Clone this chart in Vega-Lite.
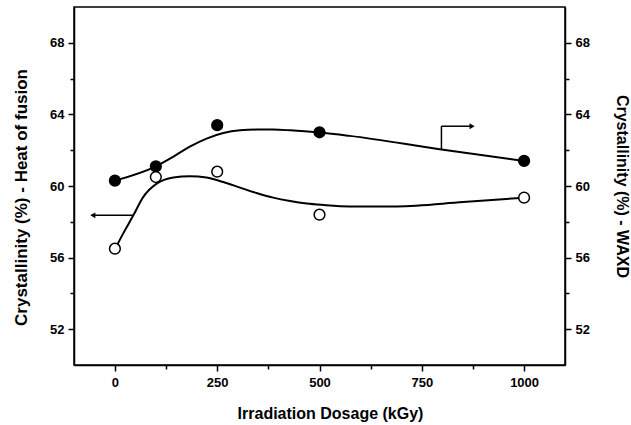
{
  "$schema": "https://vega.github.io/schema/vega-lite/v6.json",
  "width": 491,
  "height": 358,
  "autosize": {"type": "none"},
  "padding": {"left": 74, "top": 7, "right": 66, "bottom": 60},
  "background": "white",
  "config": {
    "view": {"stroke": "black", "strokeWidth": 1.5},
    "axis": {
      "grid": false,
      "domainColor": "black",
      "domainWidth": 1.5,
      "tickColor": "black",
      "tickWidth": 1.5,
      "labelFont": "Liberation Sans",
      "labelFontWeight": "bold",
      "labelFontSize": 13,
      "labelColor": "black",
      "titleFont": "Liberation Sans",
      "titleFontWeight": "bold",
      "titleFontSize": 16,
      "titleColor": "black",
      "labelOverlap": false,
      "labelPadding": 4
    }
  },
  "datasets": {
    "pts": [
      {"dose": 0, "val": 60.3, "series": "WAXD"},
      {"dose": 100, "val": 61.1, "series": "WAXD"},
      {"dose": 250, "val": 63.4, "series": "WAXD"},
      {"dose": 500, "val": 63.0, "series": "WAXD"},
      {"dose": 1000, "val": 61.4, "series": "WAXD"},
      {"dose": 0, "val": 56.5, "series": "Heat"},
      {"dose": 100, "val": 60.5, "series": "Heat"},
      {"dose": 250, "val": 60.8, "series": "Heat"},
      {"dose": 500, "val": 58.4, "series": "Heat"},
      {"dose": 1000, "val": 59.35, "series": "Heat"}
    ],
    "fit": [
      {"dose": 0, "val": 60.3, "series": "WAXD"},
      {"dose": 100, "val": 61.1, "series": "WAXD"},
      {"dose": 143, "val": 61.64, "series": "WAXD"},
      {"dose": 183, "val": 62.2, "series": "WAXD"},
      {"dose": 224, "val": 62.65, "series": "WAXD"},
      {"dose": 265, "val": 62.96, "series": "WAXD"},
      {"dose": 306, "val": 63.11, "series": "WAXD"},
      {"dose": 346, "val": 63.15, "series": "WAXD"},
      {"dose": 387, "val": 63.15, "series": "WAXD"},
      {"dose": 428, "val": 63.11, "series": "WAXD"},
      {"dose": 500, "val": 62.99, "series": "WAXD"},
      {"dose": 574, "val": 62.8, "series": "WAXD"},
      {"dose": 798, "val": 62.04, "series": "WAXD"},
      {"dose": 1000, "val": 61.4, "series": "WAXD"},
      {"dose": 0, "val": 56.46, "series": "Heat"},
      {"dose": 20, "val": 57.34, "series": "Heat"},
      {"dose": 45, "val": 58.36, "series": "Heat"},
      {"dose": 69, "val": 59.38, "series": "Heat"},
      {"dose": 102, "val": 60.13, "series": "Heat"},
      {"dose": 143, "val": 60.47, "series": "Heat"},
      {"dose": 183, "val": 60.54, "series": "Heat"},
      {"dose": 224, "val": 60.47, "series": "Heat"},
      {"dose": 265, "val": 60.22, "series": "Heat"},
      {"dose": 306, "val": 59.91, "series": "Heat"},
      {"dose": 346, "val": 59.61, "series": "Heat"},
      {"dose": 387, "val": 59.35, "series": "Heat"},
      {"dose": 428, "val": 59.16, "series": "Heat"},
      {"dose": 469, "val": 59.02, "series": "Heat"},
      {"dose": 509, "val": 58.94, "series": "Heat"},
      {"dose": 574, "val": 58.86, "series": "Heat"},
      {"dose": 689, "val": 58.86, "series": "Heat"},
      {"dose": 851, "val": 59.1, "series": "Heat"},
      {"dose": 1000, "val": 59.35, "series": "Heat"}
    ],
    "arrows": [
      {"dose": -57, "dose2": 44.8, "val": 58.36, "val2": 58.36},
      {"dose": 798, "dose2": 798, "val": 62.04, "val2": 63.34},
      {"dose": 798, "dose2": 870, "val": 63.34, "val2": 63.34}
    ],
    "heads": [
      {"dose": -54, "val": 58.36, "dir": "left"},
      {"dose": 873, "val": 63.34, "dir": "right"}
    ]
  },
  "layer": [
    {
      "data": {"name": "fit"},
      "mark": {"type": "line", "interpolate": "monotone", "color": "black", "strokeWidth": 2},
      "encoding": {
        "x": {
          "field": "dose", "type": "quantitative",
          "scale": {"domain": [-100, 1100], "nice": false, "zero": false},
          "axis": {
            "title": "Irradiation Dosage (kGy)",
            "titleX": 256,
            "values": [0, 125, 250, 375, 500, 625, 750, 875, 1000],
            "format": "d",
            "labelExpr": "datum.value % 250 == 0 ? datum.label : ''",
            "tickSize": {"condition": {"test": "datum.value % 250 == 0", "value": 6}, "value": 4},
            "labelPadding": 5,
            "titlePadding": 16
          }
        },
        "y": {
          "field": "val", "type": "quantitative",
          "scale": {"domain": [50, 70], "nice": false, "zero": false},
          "axis": {
            "title": "Crystallinity (%) - Heat of fusion",
            "titleFontSize": 17,
            "titleY": 190,
            "values": [52, 54, 56, 58, 60, 62, 64, 66, 68],
            "labelExpr": "(datum.value - 52) % 4 == 0 ? datum.label : ''",
            "tickSize": {"condition": {"test": "(datum.value - 52) % 4 == 0", "value": 6}, "value": 4},
            "titlePadding": 19
          }
        },
        "detail": {"field": "series"}
      }
    },
    {
      "data": {"name": "arrows"},
      "mark": {"type": "rule", "color": "black", "strokeWidth": 1.5},
      "encoding": {
        "x": {"field": "dose", "type": "quantitative", "scale": {"domain": [-100, 1100], "nice": false, "zero": false}, "axis": null},
        "x2": {"field": "dose2"},
        "y": {"field": "val", "type": "quantitative", "scale": {"domain": [50, 70], "nice": false, "zero": false}, "axis": null},
        "y2": {"field": "val2"}
      }
    },
    {
      "data": {"name": "heads"},
      "mark": {"type": "point", "filled": true, "color": "black", "opacity": 1, "size": 35},
      "encoding": {
        "x": {"field": "dose", "type": "quantitative", "scale": {"domain": [-100, 1100], "nice": false, "zero": false}, "axis": null},
        "y": {"field": "val", "type": "quantitative", "scale": {"domain": [50, 70], "nice": false, "zero": false}, "axis": null},
        "shape": {"field": "dir", "type": "nominal", "scale": {"domain": ["left", "right"], "range": ["triangle-left", "triangle-right"]}, "legend": null}
      }
    },
    {
      "data": {"name": "pts"},
      "mark": {"type": "point", "shape": "circle", "size": 115, "strokeWidth": 1.5, "opacity": 1},
      "encoding": {
        "x": {"field": "dose", "type": "quantitative", "scale": {"domain": [-100, 1100], "nice": false, "zero": false}, "axis": null},
        "y": {"field": "val", "type": "quantitative", "scale": {"domain": [50, 70], "nice": false, "zero": false}, "axis": null},
        "fill": {"field": "series", "type": "nominal", "scale": {"domain": ["WAXD", "Heat"], "range": ["black", "white"]}, "legend": null},
        "stroke": {"value": "black"}
      }
    },
    {
      "data": {"name": "pts"},
      "mark": {"type": "point", "opacity": 0},
      "encoding": {
        "x": {"field": "dose", "type": "quantitative", "scale": {"domain": [-100, 1100], "nice": false, "zero": false}, "axis": null},
        "y": {
          "field": "val", "type": "quantitative",
          "scale": {"domain": [50, 70], "nice": false, "zero": false},
          "axis": {
            "orient": "right",
            "title": "Crystallinity (%) - WAXD",
            "titleAngle": 90,
            "values": [52, 54, 56, 58, 60, 62, 64, 66, 68],
            "labelExpr": "(datum.value - 52) % 4 == 0 ? datum.label : ''",
            "tickSize": {"condition": {"test": "(datum.value - 52) % 4 == 0", "value": 6}, "value": 4},
            "titlePadding": 24
          }
        }
      }
    }
  ],
  "resolve": {"axis": {"x": "independent", "y": "independent"}}
}
